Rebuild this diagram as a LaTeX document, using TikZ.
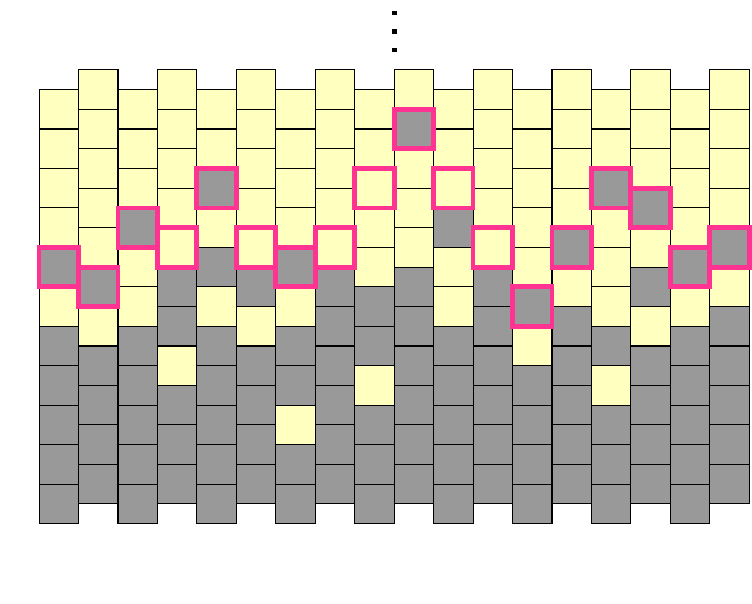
\documentclass[tikz,border=0pt]{standalone}
\usepackage{xcolor}
\usepackage{tikz}
\definecolor{cellyellow}{RGB}{255,255,192}
\definecolor{cellgray}{RGB}{153,153,153}
\definecolor{markpink}{RGB}{255,51,145}
\begin{document}
\begin{tikzpicture}[
    grayfill/.style={fill=cellgray},
    yellowfill/.style={fill=cellyellow},
    cellline/.style={draw=black,line width=0.8pt},
    markbox/.style={draw=markpink,line width=3.5pt},
    ]
    \useasboundingbox (-0.99,-2.015) rectangle (18.07,13.27);
    \foreach \c/\ys in {0/{5,7,8,9,10}, 1/{4,6,7,8,9,10}, 2/{5,6,8,9,10},
        3/{3,6,7,8,9,10}, 4/{5,7,9,10}, 5/{4,6,7,8,9,10}, 6/{2,5,7,8,9,10},
        7/{6,7,8,9,10}, 8/{3,6,7,8,9,10}, 9/{6,7,8,10}, 10/{5,6,8,9,10},
        11/{6,7,8,9,10}, 12/{4,6,7,8,9,10}, 13/{5,7,8,9,10}, 14/{3,5,6,7,9,10},
        15/{4,6,8,9,10}, 16/{5,7,8,9,10}, 17/{5,7,8,9,10}}{
        \pgfmathsetmacro\o{mod(\c,2)/2}
        \fill[grayfill] (\c,\o) rectangle (\c+1,\o+11);
        \foreach \r in \ys
            \fill[yellowfill] (\c,\r+\o) rectangle (\c+1,\r+\o+1);
        \foreach \r in {0,...,10}
            \draw[cellline] (\c,\r+\o) rectangle (\c+1,\r+\o+1);
    }
    \foreach \c/\r in {0/6, 1/5, 2/7, 3/6, 4/8, 5/6, 6/6, 7/6, 8/8, 9/9,
        10/8, 11/6, 12/5, 13/6, 14/8, 15/7, 16/6, 17/6}{
        \pgfmathsetmacro\o{mod(\c,2)/2}
        \draw[markbox] (\c,\r+\o) rectangle (\c+1,\r+\o+1);
    }
    \foreach \y in {12.0,12.47,12.94}
        \fill (9-0.06,\y-0.06) rectangle (9+0.06,\y+0.06);
\end{tikzpicture}
\end{document}
